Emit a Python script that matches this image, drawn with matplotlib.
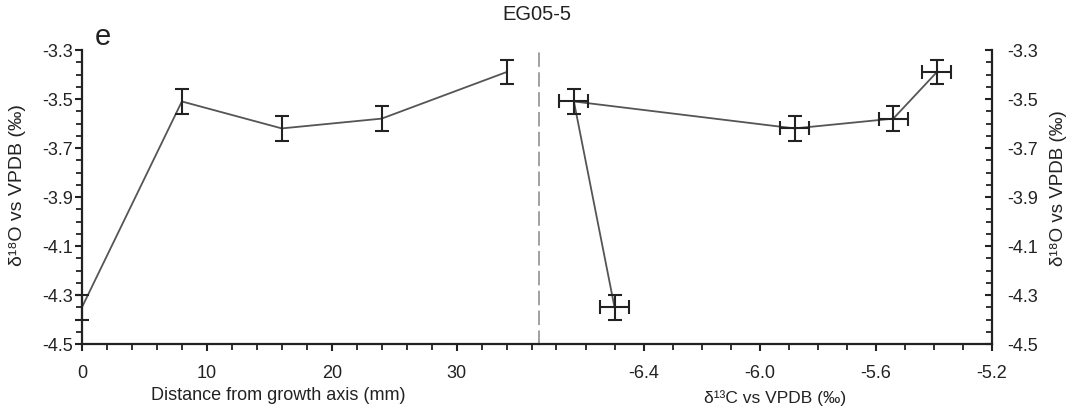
import numpy as np
import matplotlib
matplotlib.use("Agg")
import matplotlib.pyplot as plt
from matplotlib.ticker import MultipleLocator, FormatStrFormatter

plt.rcParams['font.family'] = ['Liberation Sans', 'DejaVu Sans']

# data
distance_mm = [0, 8, 16, 24, 34]
d18o = [-4.35, -3.51, -3.62, -3.58, -3.39]
d18o_err = [0.05, 0.05, 0.05, 0.05, 0.05]
d13c = [-6.50, -6.64, -5.88, -5.54, -5.39]
d13c_err = [0.05, 0.05, 0.05, 0.05, 0.05]

line_col = '#555555'
bar_col = '#222222'
axis_col = '#222222'

fig = plt.figure(figsize=(10.74, 4.15), dpi=100)
ax1 = fig.add_axes([0.0763, 0.171, 0.4256, 0.7085])
ax2 = fig.add_axes([0.5019, 0.171, 0.4218, 0.7085])

# left panel: d18O vs distance
ax1.plot(distance_mm, d18o, color=line_col, lw=1.3, zorder=2)
ax1.errorbar(distance_mm, d18o, yerr=d18o_err, fmt='none', ecolor=bar_col,
             elinewidth=1.5, capsize=5, capthick=1.5, zorder=3, clip_on=False)
ax1.set_xlim(0, 36.6)
ax1.set_ylim(-4.5, -3.3)
ax1.xaxis.set_major_locator(MultipleLocator(10))
ax1.xaxis.set_minor_locator(MultipleLocator(2))
ax1.set_yticks(np.arange(-4.5, -3.29, 0.2))
ax1.yaxis.set_minor_locator(MultipleLocator(0.05))
ax1.yaxis.set_major_formatter(FormatStrFormatter('%.1f'))
ax1.spines['top'].set_visible(False)
ax1.spines['right'].set_visible(False)
for s in ['left', 'bottom']:
    ax1.spines[s].set_color(axis_col)
    ax1.spines[s].set_linewidth(1.6)
ax1.tick_params(axis='both', which='major', direction='out', length=5, width=1.5,
                color=axis_col, labelsize=13, labelcolor='#222222')
ax1.tick_params(axis='both', which='minor', direction='out', length=4, width=1.3,
                color=axis_col)
ax1.tick_params(axis='y', which='major', pad=1.5)
ax1.tick_params(axis='x', which='major', pad=10)
ax1.set_xlabel('Distance from growth axis (mm)', fontsize=13, color='#222222')
ax1.xaxis.set_label_coords(0.43, -0.146)
ax1.set_ylabel('δ¹⁸O vs VPDB (‰)', fontsize=14, color='#222222',
               ha='center', va='center')
ax1.yaxis.set_label_coords(-0.142, 0.54)

# right panel: d18O vs d13C
ax2.plot(d13c, d18o, color=line_col, lw=1.3, zorder=2)
ax2.errorbar(d13c, d18o, xerr=d13c_err, yerr=d18o_err, fmt='none', ecolor=bar_col,
             elinewidth=1.5, capsize=5, capthick=1.5, zorder=3)
ax2.set_xlim(-6.76, -5.2)
ax2.set_ylim(-4.5, -3.3)
ax2.set_xticks([-6.4, -6.0, -5.6, -5.2])
ax2.xaxis.set_minor_locator(MultipleLocator(0.1))
ax2.set_yticks(np.arange(-4.5, -3.29, 0.2))
ax2.yaxis.set_minor_locator(MultipleLocator(0.05))
ax2.xaxis.set_major_formatter(FormatStrFormatter('%.1f'))
ax2.yaxis.set_major_formatter(FormatStrFormatter('%.1f'))
ax2.yaxis.tick_right()
ax2.yaxis.set_label_position('right')
ax2.spines['top'].set_visible(False)
ax2.spines['left'].set_color('#999999')
ax2.spines['left'].set_linewidth(1.3)
ax2.spines['left'].set_linestyle((0, (7, 4)))
for s in ['right', 'bottom']:
    ax2.spines[s].set_color(axis_col)
    ax2.spines[s].set_linewidth(1.6)
ax2.tick_params(axis='x', which='major', direction='out', length=5, width=1.5,
                color=axis_col, labelsize=13, labelcolor='#222222', pad=10)
ax2.tick_params(axis='x', which='minor', direction='out', length=4, width=1.3,
                color=axis_col)
ax2.tick_params(axis='y', which='major', direction='in', length=5, width=1.5,
                color=axis_col, labelsize=13, labelcolor='#222222', pad=11)
ax2.tick_params(axis='y', which='minor', direction='in', length=4, width=1.3,
                color=axis_col)
ax2.set_xlabel('δ¹³C vs VPDB (‰)', fontsize=12.5, color='#222222')
ax2.xaxis.set_label_coords(0.52, -0.156)
ax2.set_ylabel('δ¹⁸O vs VPDB (‰)', fontsize=13.5, color='#222222',
               ha='center', va='center')
ax2.yaxis.set_label_coords(1.146, 0.53)

fig.text(0.5, 0.966, 'EG05-5', ha='center', va='center', fontsize=14.5, color='#222222')
fig.text(0.088, 0.91, 'e', ha='left', va='center', fontsize=21, color='#222222')

fig.savefig('out.png', dpi=100)
